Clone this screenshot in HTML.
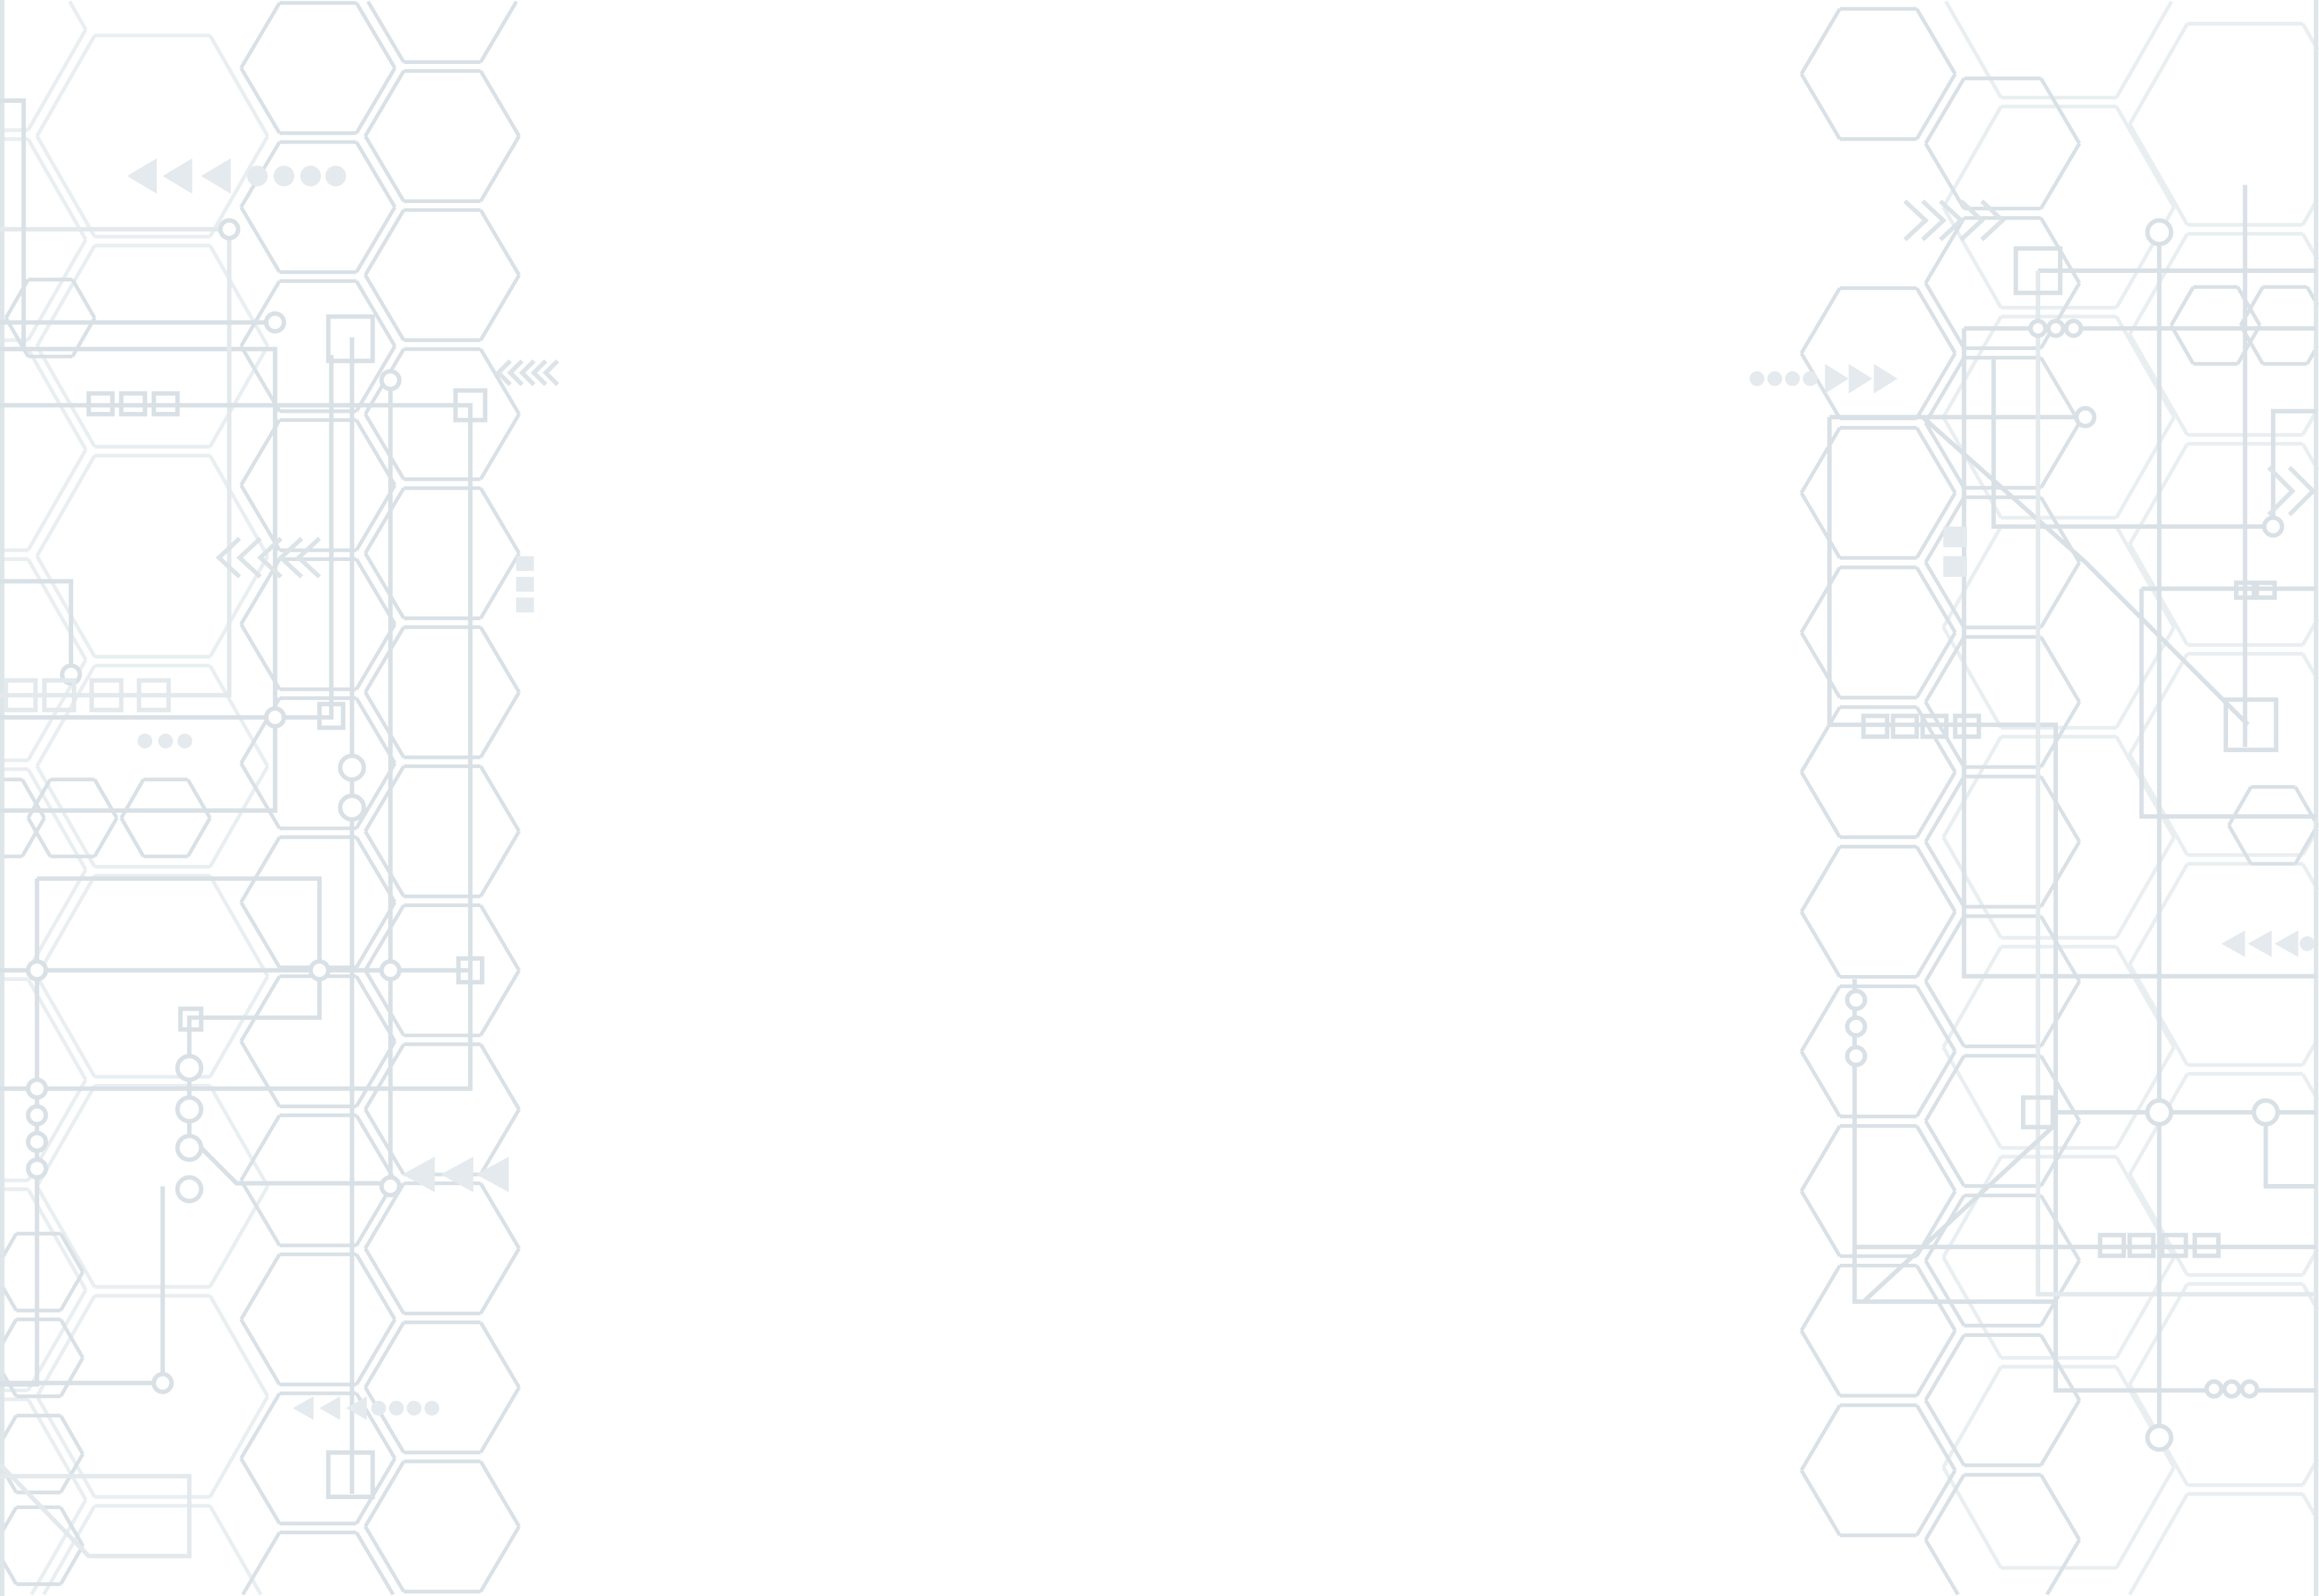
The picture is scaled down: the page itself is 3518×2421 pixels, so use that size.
<!DOCTYPE html>
<html><head><meta charset="utf-8">
<style>
html,body{margin:0;padding:0;background:#fff;width:3518px;height:2421px;overflow:hidden;}
#bg{display:block;width:3518px;height:2421px;position:absolute;left:0;top:0;}
</style></head>
<body>
<svg id="bg" viewBox="0 0 1568 1079" preserveAspectRatio="none" xmlns="http://www.w3.org/2000/svg" overflow="hidden">
<rect width="1568" height="1079" fill="#ffffff"/>
<g id="faint" fill="none" stroke="#e9eef1" stroke-width="2.5"></g>
<g id="hexes" fill="none" stroke="#d9e1e6" stroke-width="2.5"></g>
<g id="lines" fill="none" stroke="#d9e1e6" stroke-width="3">
  <line x1="1.5" y1="0" x2="1.5" y2="1079" stroke="#dfe6ea"/>
  <line x1="1566" y1="0" x2="1566" y2="1079" stroke="#dfe6ea"/>
  <polyline points="0,236 186,236 186,548 0,548"/>
  <polyline points="0,155 155,155 155,470 0,470" stroke="#e3e9ec"/>
  <polyline points="0,218 186,218"/>
  <polyline points="0,274 318,274 318,736 0,736"/>
  <polyline points="224,240 224,485 0,485"/>
  <polyline points="238,228 238,1010"/>
  <polyline points="264,257 264,802"/>
  <polyline points="0,393 48,393 48,456"/>
  <polyline points="0,656 318,656"/>
  <polyline points="25,594 216,594 216,688 128,688 128,768 160,800 264,800"/>
  <polyline points="25,594 25,936 0,936"/>
  <polyline points="110,802 110,935 0,935"/>
  <polyline points="0,998 128,998 128,1052 60,1052 0,990" stroke="#e3e9ec"/>
  <polyline points="0,68 16,68 16,236"/>
  <polyline points="1237,282 1410,282"/>
  <polyline points="1237,282 1237,490 1390,490 1390,940 1566,940"/>
  <polyline points="1328,222 1566,222"/>
  <polyline points="1328,222 1328,660 1566,660"/>
  <polyline points="1348,243 1348,356 1537,356 1537,278 1566,278"/>
  <polyline points="1300,282 1410,380 1520,490"/>
  <polyline points="1448,398 1566,398"/>
  <polyline points="1448,398 1448,552 1566,552"/>
  <polyline points="1378,183 1566,183"/>
  <polyline points="1378,183 1378,875 1566,875" stroke="#e3e9ec"/>
  <polyline points="1460,157 1460,975"/>
  <polyline points="1518,125 1518,505"/>
  <polyline points="1254,662 1254,880 1390,880"/>
  <polyline points="1254,843 1566,843"/>
  <polyline points="1260,880 1390,760"/>
  <polyline points="1390,752 1566,752"/>
  <polyline points="1532,752 1532,802 1566,802"/>
</g>
<g id="nodes" fill="#fff" stroke="#d9e1e6" stroke-width="3">
  <circle cx="155" cy="155" r="6"/><circle cx="186" cy="218" r="6"/><circle cx="264" cy="257" r="6"/>
  <circle cx="186" cy="485" r="6"/><circle cx="48" cy="456" r="6"/><circle cx="238" cy="519" r="8"/>
  <circle cx="238" cy="546" r="8"/><circle cx="25" cy="656" r="6"/><circle cx="216" cy="656" r="6"/>
  <circle cx="264" cy="656" r="6"/><circle cx="25" cy="736" r="6"/><circle cx="25" cy="754" r="6"/>
  <circle cx="25" cy="772" r="6"/><circle cx="25" cy="790" r="6"/><circle cx="128" cy="722" r="8"/>
  <circle cx="128" cy="750" r="8"/><circle cx="128" cy="776" r="8"/><circle cx="128" cy="804" r="8"/>
  <circle cx="264" cy="802" r="6"/><circle cx="110" cy="935" r="6"/>
  <circle cx="1460" cy="157" r="8"/><circle cx="1410" cy="282" r="6"/><circle cx="1537" cy="356" r="6"/>
  <circle cx="1378" cy="222" r="5"/><circle cx="1390" cy="222" r="5"/><circle cx="1402" cy="222" r="5"/>
  <circle cx="1460" cy="752" r="8"/><circle cx="1532" cy="752" r="8"/><circle cx="1460" cy="972" r="8"/>
  <circle cx="1497" cy="939" r="5"/><circle cx="1509" cy="939" r="5"/><circle cx="1521" cy="939" r="5"/>
  <circle cx="1255" cy="676" r="6"/><circle cx="1255" cy="694" r="6"/><circle cx="1255" cy="714" r="6"/>
</g>
<g id="squares" fill="none" stroke="#d9e1e6" stroke-width="3">
  <rect x="222" y="214" width="30" height="30"/><rect x="308" y="264" width="20" height="20"/>
  <rect x="216" y="476" width="16" height="16"/><rect x="310" y="648" width="16" height="16"/>
  <rect x="122" y="682" width="14" height="14"/><rect x="222" y="982" width="30" height="30"/>
  <rect x="60" y="266" width="16" height="14"/><rect x="82" y="266" width="16" height="14"/><rect x="104" y="266" width="16" height="14"/>
  <rect x="4" y="460" width="20" height="20" stroke="#e3e9ec"/><rect x="30" y="460" width="20" height="20" stroke="#e3e9ec"/>
  <rect x="62" y="460" width="20" height="20" stroke="#e3e9ec"/><rect x="94" y="460" width="20" height="20" stroke="#e3e9ec"/>
  <rect x="1363" y="168" width="30" height="30"/><rect x="1505" y="473" width="34" height="34"/>
  <rect x="1260" y="484" width="16" height="14"/><rect x="1280" y="484" width="16" height="14"/><rect x="1300" y="484" width="16" height="14"/><rect x="1322" y="484" width="16" height="14"/>
  <rect x="1420" y="835" width="16" height="14"/><rect x="1440" y="835" width="16" height="14"/><rect x="1462" y="835" width="16" height="14"/><rect x="1484" y="835" width="16" height="14"/>
  <rect x="1512" y="394" width="12" height="10"/><rect x="1526" y="394" width="12" height="10"/>
  <rect x="1368" y="742" width="20" height="20"/>
</g>
<g id="arrows" fill="#e4eaee">
  <polygon points="86,119 106,107 106,131"/><polygon points="110,119 130,107 130,131"/><polygon points="136,119 156,107 156,131"/>
  <circle cx="174" cy="119" r="7"/><circle cx="192" cy="119" r="7"/><circle cx="210" cy="119" r="7"/><circle cx="227" cy="119" r="7"/>
  <polygon points="272,794 294,782 294,806"/><polygon points="298,794 320,782 320,806"/><polygon points="322,794 344,782 344,806"/>
  <polygon points="198,952 212,944 212,960"/><polygon points="216,952 230,944 230,960"/><polygon points="234,952 248,944 248,960"/>
  <circle cx="256" cy="952" r="5"/><circle cx="268" cy="952" r="5"/><circle cx="280" cy="952" r="5"/><circle cx="292" cy="952" r="5"/>
  <circle cx="98" cy="501" r="5"/><circle cx="112" cy="501" r="5"/><circle cx="125" cy="501" r="5"/>
  <rect x="349" y="376" width="12" height="10"/><rect x="349" y="390" width="12" height="10"/><rect x="349" y="404" width="12" height="10"/>
  <circle cx="1188" cy="256" r="5"/><circle cx="1200" cy="256" r="5"/><circle cx="1212" cy="256" r="5"/><circle cx="1224" cy="256" r="5"/>
  <polygon points="1250,256 1234,246 1234,266"/><polygon points="1266,256 1250,246 1250,266"/><polygon points="1283,256 1267,246 1267,266"/>
  <polygon points="1502,638 1518,629 1518,647"/><polygon points="1520,638 1536,629 1536,647"/><polygon points="1538,638 1554,629 1554,647"/>
  <circle cx="1560" cy="638" r="5"/>
  <rect x="1314" y="356" width="16" height="14"/><rect x="1314" y="376" width="16" height="14"/>
</g>
<g id="chevrons" fill="none" stroke="#dde4e8" stroke-width="3">
  <polyline points="345,244 337,252 345,260"/><polyline points="353,244 345,252 353,260"/><polyline points="361,244 353,252 361,260"/><polyline points="369,244 361,252 369,260"/><polyline points="377,244 369,252 377,260"/>
  <polyline points="162,364 148,377 162,390"/><polyline points="176,364 162,377 176,390"/><polyline points="190,364 176,377 190,390"/><polyline points="204,364 190,377 204,390"/><polyline points="216,364 202,377 216,390"/>
  <polyline points="1288,136 1302,149 1288,162"/><polyline points="1300,136 1314,149 1300,162"/><polyline points="1312,136 1326,149 1312,162"/><polyline points="1326,136 1340,149 1326,162"/><polyline points="1340,136 1354,149 1340,162"/>
  <polyline points="1534,316 1550,332 1534,348"/><polyline points="1548,316 1564,332 1548,348"/>
</g>
</svg>
<script>
var ns="http://www.w3.org/2000/svg";
var W=1567,HH=1078;
function clipSeg(x0,y0,x1,y1){
  var t0=0,t1=1,dx=x1-x0,dy=y1-y0;
  var p=[-dx,dx,-dy,dy],q=[x0-1,W-x0,y0-1,HH-y0];
  for(var k=0;k<4;k++){
    if(p[k]===0){ if(q[k]<0) return null; }
    else{ var r=q[k]/p[k]; if(p[k]<0){ if(r>t1) return null; if(r>t0) t0=r; } else { if(r<t0) return null; if(r<t1) t1=r; } }
  }
  return [x0+t0*dx,y0+t0*dy,x0+t1*dx,y0+t1*dy];
}
function hex(g,cx,cy,w,h){
  var q=w/4;
  var v=[[cx-w/2,cy],[cx-q,cy-h/2],[cx+q,cy-h/2],[cx+w/2,cy],[cx+q,cy+h/2],[cx-q,cy+h/2]];
  var d="";
  for(var k=0;k<6;k++){
    var a=v[k],b=v[(k+1)%6];
    var c=clipSeg(a[0],a[1],b[0],b[1]);
    if(c) d+="M"+c[0].toFixed(1)+","+c[1].toFixed(1)+"L"+c[2].toFixed(1)+","+c[3].toFixed(1);
  }
  if(!d) return;
  var el=document.createElementNS(ns,"path");
  el.setAttribute("d",d);
  el.setAttribute("stroke-linejoin","round");
  
  
  g.appendChild(el);
}
var Hg=document.getElementById("hexes"),Fg=document.getElementById("faint");
var i;
for(i=0;i<12;i++) hex(Hg,215,46+i*94,104,88);
for(i=-1;i<12;i++) hex(Hg,299,92+i*94,104,88);
for(i=0;i<11;i++){ if(i!==1) hex(Hg,1270,50+i*94.4,104,88);}
for(i=0;i<12;i++) hex(Hg,1354,97+i*94.4,104,88);
for(i=0;i<8;i++) hex(Fg,103,92+i*142,156,136);
for(i=-1;i<8;i++) hex(Fg,-20,162+i*142,156,136);
for(i=0;i<8;i++) hex(Fg,1392,-2+i*142,156,136);
for(i=0;i<8;i++) hex(Fg,1518,84+i*142,156,136);
[[34,215],[112,553],[49,553],[0,553],[1537,558],[1498,220],[1545,220],[26,860],[26,918],[26,983],[26,1045]].forEach(function(c){hex(Hg,c[0],c[1],60,52);});
</script>
</body></html>
